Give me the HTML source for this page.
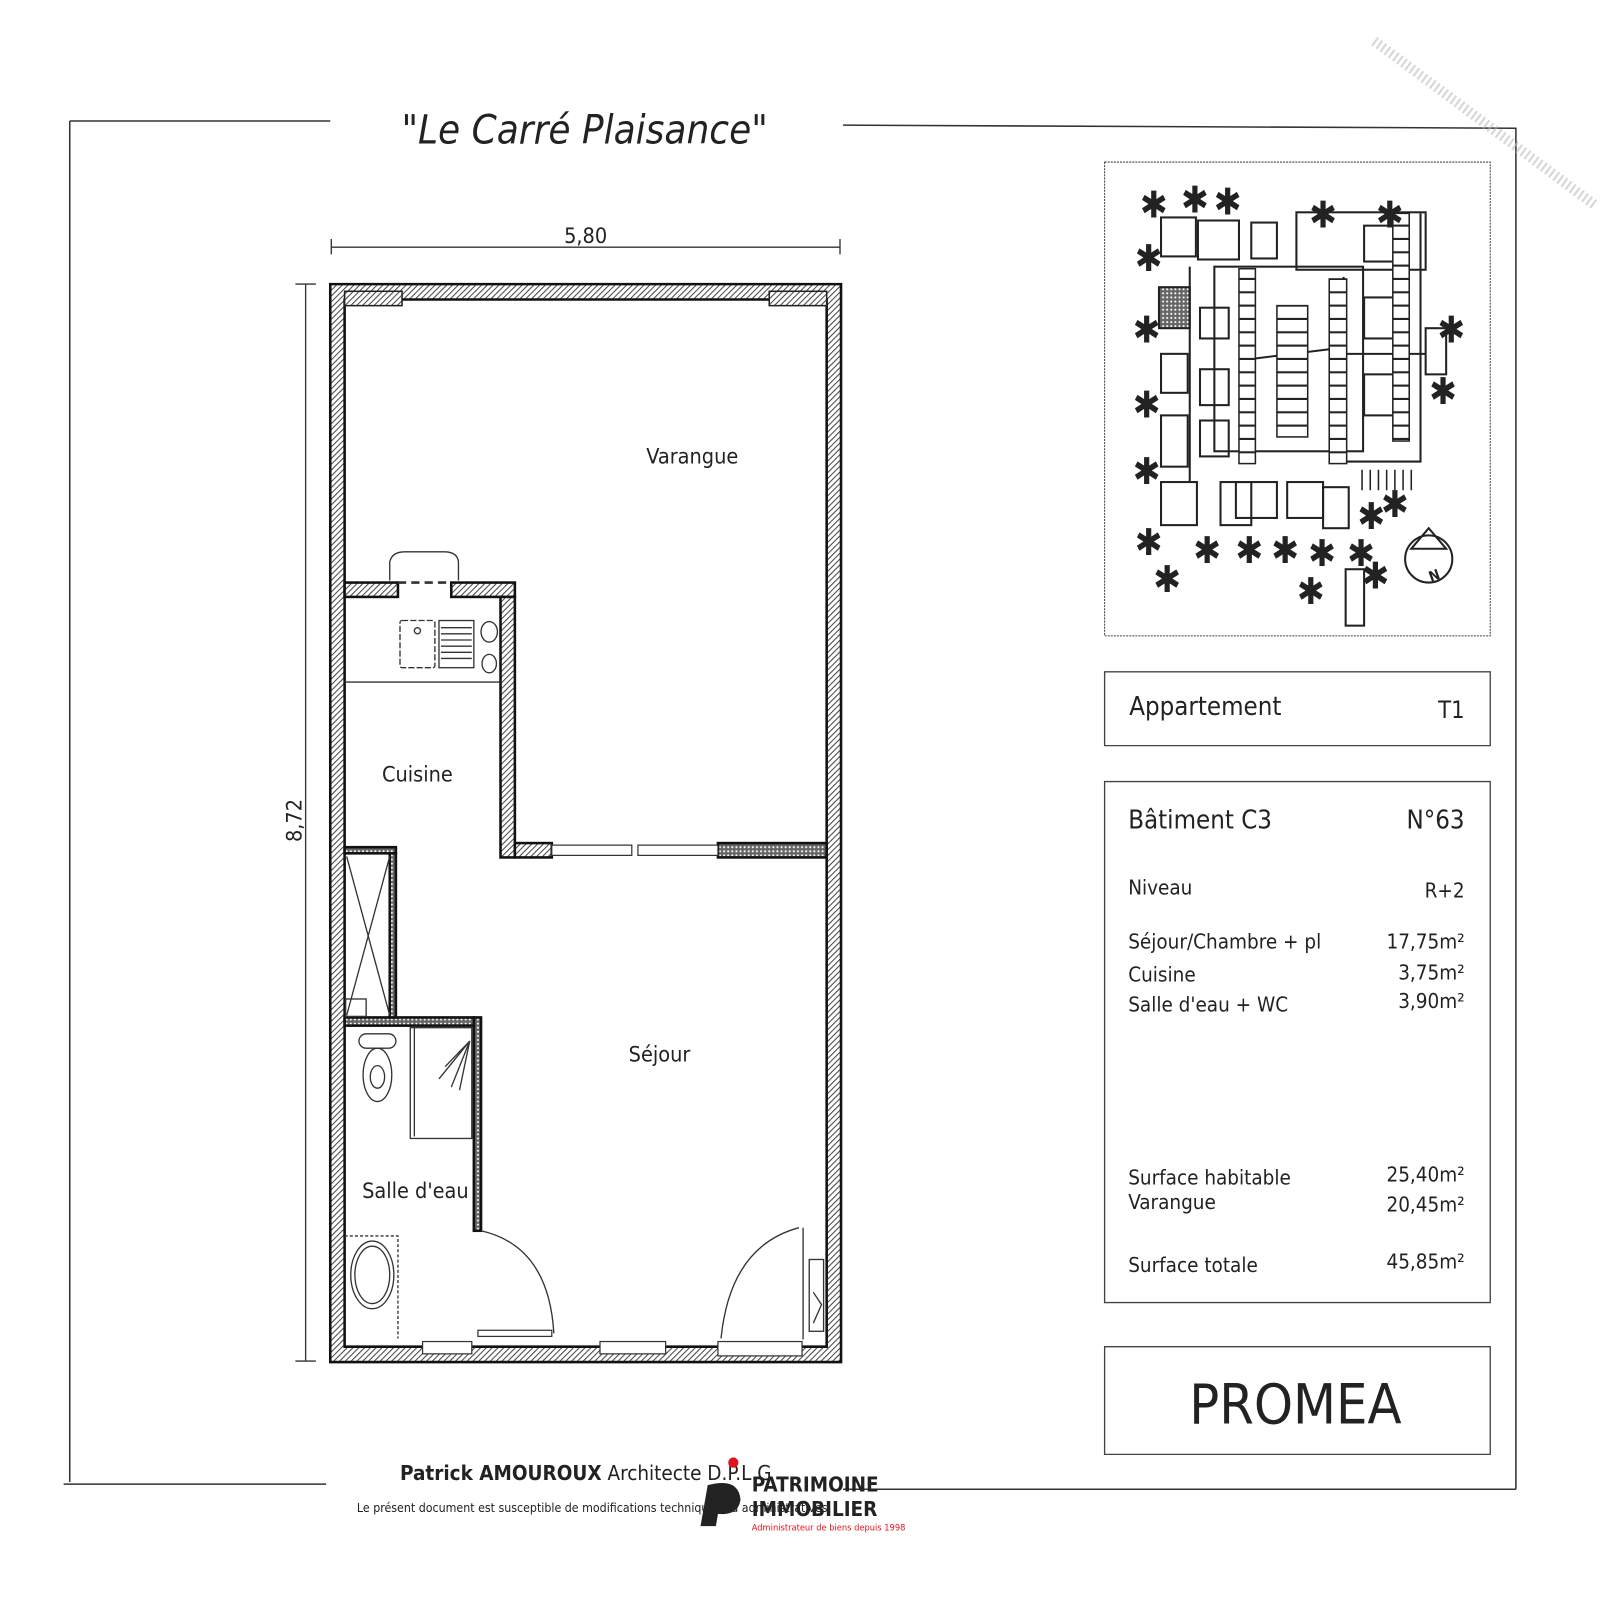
<!DOCTYPE html>
<html><head><meta charset="utf-8"><style>
html,body{margin:0;padding:0;background:#fff}
svg{display:block}
text{font-family:"DejaVu Sans Condensed","DejaVu Sans","Liberation Sans",sans-serif;fill:#222}
</style></head><body>
<svg width="1600" height="1600" viewBox="0 0 1560 1560" xmlns="http://www.w3.org/2000/svg">
<defs>
<pattern id="h" width="4" height="4" patternUnits="userSpaceOnUse" patternTransform="rotate(45)">
<rect width="4" height="4" fill="#fff"/><line x1="0" y1="0" x2="0" y2="4" stroke="#444" stroke-width="2"/></pattern>
<pattern id="d" width="4" height="4" patternUnits="userSpaceOnUse"><rect width="4" height="4" fill="#666"/><circle cx="2" cy="2" r="1" fill="#fff"/></pattern>
<pattern id="pk" width="20" height="13" patternUnits="userSpaceOnUse"><rect width="20" height="13" fill="#fff"/><line x1="0" y1="12" x2="20" y2="12" stroke="#222" stroke-width="2"/></pattern>
</defs>
<g stroke="#333" stroke-width="1.5" fill="none">
<path d="M68 118 H322"/><path d="M822 122 L1478 125 V1452"/>
<path d="M68 118 V1445"/><path d="M62 1447 H318"/><path d="M822 1452 H1478"/>
</g>
<text x="570" y="140" font-size="39" font-style="italic" text-anchor="middle">"Le Carré Plaisance"</text>
<g stroke="#333" stroke-width="1.3" fill="none">
<path d="M323 241 H819 M323 233 V248 M819 233 V248"/>
<path d="M298 277 V1327 M288 277 H308 M288 1327 H308"/>
</g>
<text x="571" y="237" font-size="21" text-anchor="middle">5,80</text>
<text x="0" y="0" font-size="21" text-anchor="middle" transform="translate(294,800) rotate(-90)">8,72</text>
<g fill="url(#h)" stroke="#111" stroke-width="2.5">
<path fill-rule="evenodd" d="M322 277 H820 V1328 H322 Z M336 292 V1313 H806 V292 Z"/>
<rect x="336" y="568" width="52" height="14"/><rect x="440" y="568" width="62" height="14"/>
<rect x="488" y="582" width="14" height="254"/>
<rect x="502" y="822" width="36" height="14"/><rect x="700" y="822" width="106" height="14" fill="url(#d)"/>
<rect x="462" y="992" width="7" height="208" fill="url(#d)"/>
<rect x="336" y="992" width="126" height="8" fill="url(#d)"/>
<rect x="336" y="826" width="50" height="6" fill="url(#d)"/>
<rect x="380" y="832" width="6" height="160" fill="url(#d)"/>
</g>
<g fill="url(#h)" stroke="#222" stroke-width="1.5">
<rect x="336" y="284" width="56" height="14"/><rect x="750" y="284" width="56" height="14"/>
</g>
<g fill="#fff" stroke="#333" stroke-width="1.2">
<rect x="538" y="824" width="78" height="10"/><rect x="622" y="824" width="78" height="10"/>
<rect x="412" y="1308" width="48" height="12"/><rect x="585" y="1308" width="64" height="12"/><rect x="700" y="1308" width="82" height="14"/>
<rect x="466" y="1297" width="72" height="6"/>
</g>
<g stroke="#333" stroke-width="1.3" fill="none">
<path d="M380 566 V548 Q382 538 395 538 H433 Q446 538 447 548 V566"/>
<path d="M388 568 H440" stroke-dasharray="8 5" stroke-width="2.5"/>
<path d="M336 665 H488"/>
<rect x="390" y="605" width="34" height="46" rx="2" stroke-dasharray="6 2"/>
<circle cx="407" cy="615" r="3"/>
<rect x="428" y="605" width="34" height="46"/>
<path d="M430 612H460M430 618H460M430 624H460M430 630H460M430 636H460M430 642H460"/>
<ellipse cx="477" cy="616" rx="8" ry="10"/><ellipse cx="477" cy="647" rx="7" ry="9"/>
<path d="M338 835 L380 990 M380 835 L338 990"/>
<rect x="337" y="974" width="20" height="17"/>
<rect x="350" y="1008" width="36" height="14" rx="7"/>
<ellipse cx="368" cy="1048" rx="14" ry="26"/><ellipse cx="368" cy="1050" rx="7" ry="11"/>
<rect x="400" y="1002" width="60" height="108"/><path d="M404 1002 V1108"/>
<path d="M458 1015 L434 1040 M458 1015 L428 1052 M458 1015 L440 1060 M458 1015 L448 1063"/>
<path d="M336 1205 H388 V1305" stroke-dasharray="3 2"/>
<ellipse cx="363" cy="1243" rx="21" ry="33"/><ellipse cx="363" cy="1243" rx="17" ry="28"/>
<path d="M469 1200 Q535 1215 540 1300"/><path d="M783 1197 V1306"/>
<path d="M779 1197 Q712 1215 703 1305"/>
<rect x="789" y="1228" width="14" height="70"/><path d="M793 1260 L801 1272 L793 1290"/>
</g>
<text x="675" y="452" font-size="21" text-anchor="middle">Varangue</text>
<text x="407" y="762" font-size="21" text-anchor="middle">Cuisine</text>
<text x="643" y="1035" font-size="21" text-anchor="middle">Séjour</text>
<text x="405" y="1168" font-size="21" text-anchor="middle">Salle d'eau</text>
<g stroke="#444" stroke-width="1" fill="none" stroke-dasharray="2 1">
<path d="M1077 158 H1453 V620 H1077 Z"/>
</g>
<g stroke="#222" stroke-width="2" fill="none">
<rect x="1132" y="212" width="34" height="38"/><rect x="1168" y="215" width="40" height="38"/><rect x="1220" y="217" width="25" height="35"/>
<rect x="1264" y="207" width="126" height="56"/><rect x="1330" y="220" width="30" height="35"/>
<rect x="1184" y="260" width="145" height="180"/><rect x="1130" y="280" width="30" height="40" fill="url(#d)"/>
<rect x="1132" y="345" width="26" height="38"/><rect x="1132" y="405" width="26" height="50"/>
<rect x="1132" y="470" width="35" height="42"/><rect x="1190" y="470" width="30" height="42"/><rect x="1205" y="470" width="40" height="35"/><rect x="1255" y="470" width="35" height="35"/><rect x="1290" y="475" width="25" height="40"/>
<rect x="1170" y="300" width="28" height="30"/><rect x="1170" y="360" width="28" height="35"/><rect x="1170" y="410" width="28" height="35"/>
<rect x="1330" y="290" width="40" height="40"/><rect x="1330" y="365" width="40" height="40"/>
<path d="M1160 260 V470 M1310 270 V450 H1385 V208"/>
<rect x="1390" y="320" width="20" height="45"/>
<path d="M1220 350 L1300 340 M1310 345 H1390"/>
<rect x="1312" y="555" width="18" height="55"/>
<circle cx="1393" cy="545" r="23"/><path d="M1376 535 L1393 515 L1410 535 Z"/>
</g>
<g stroke="#222" stroke-width="1.5">
<rect x="1208" y="262" width="16" height="190" fill="url(#pk)"/>
<rect x="1245" y="298" width="30" height="128" fill="url(#pk)"/>
<rect x="1296" y="272" width="17" height="180" fill="url(#pk)"/>
<rect x="1358" y="208" width="16" height="222" fill="url(#pk)"/>
<path d="M1328 458 V478 M1336 458 V478 M1344 458 V478 M1352 458 V478 M1360 458 V478 M1368 458 V478 M1376 458 V478" />
</g>
<g font-size="36" fill="#222" text-anchor="middle">
<text x="1125" y="212">✱</text><text x="1165" y="207">✱</text><text x="1197" y="209">✱</text><text x="1290" y="222">✱</text><text x="1355" y="222">✱</text>
<text x="1120" y="264">✱</text><text x="1118" y="334">✱</text><text x="1118" y="407">✱</text><text x="1118" y="472">✱</text><text x="1415" y="334">✱</text><text x="1407" y="394">✱</text>
<text x="1120" y="541">✱</text><text x="1138" y="577">✱</text><text x="1177" y="549">✱</text><text x="1218" y="549">✱</text><text x="1253" y="549">✱</text><text x="1289" y="552">✱</text><text x="1278" y="589">✱</text><text x="1327" y="552">✱</text><text x="1341" y="574">✱</text><text x="1337" y="516">✱</text><text x="1360" y="504">✱</text>
</g>
<text x="1398" y="566" font-size="14" font-weight="bold" text-anchor="middle" transform="rotate(-20 1398 560)">N</text>
<g stroke="#444" stroke-width="1.3" fill="none">
<path d="M1077 655 H1453 V727 H1077 Z"/>
<path d="M1077 762 H1453 V1270 H1077 Z"/>
<path d="M1077 1313 H1453 V1418 H1077 Z"/>
</g>
<text x="1101" y="697" font-size="25">Appartement</text>
<text x="1428" y="700" font-size="23" text-anchor="end">T1</text>
<text x="1100" y="808" font-size="25">Bâtiment C3</text>
<text x="1428" y="808" font-size="25" text-anchor="end">N°63</text>
<g font-size="20">
<text x="1100" y="872">Niveau</text><text x="1428" y="875" text-anchor="end">R+2</text>
<text x="1100" y="925">Séjour/Chambre + pl</text><text x="1428" y="925" text-anchor="end">17,75m²</text>
<text x="1100" y="957">Cuisine</text><text x="1428" y="955" text-anchor="end">3,75m²</text>
<text x="1100" y="986">Salle d'eau + WC</text><text x="1428" y="983" text-anchor="end">3,90m²</text>
<text x="1100" y="1155">Surface habitable</text><text x="1428" y="1152" text-anchor="end">25,40m²</text>
<text x="1100" y="1179">Varangue</text><text x="1428" y="1181" text-anchor="end">20,45m²</text>
<text x="1100" y="1240">Surface totale</text><text x="1428" y="1237" text-anchor="end">45,85m²</text>
</g>
<text x="1263" y="1388" font-size="54" text-anchor="middle">PROMEA</text>
<text x="390" y="1443" font-size="20"><tspan font-weight="bold">Patrick AMOUROUX</tspan> Architecte D.P.L.G</text>
<text x="348" y="1474" font-size="12">Le présent document est susceptible de modifications techniques ou administratives</text>
<path d="M690 1448 Q720 1440 722 1462 Q720 1478 700 1476 L698 1488 H683 Z" fill="#222"/>
<circle cx="715" cy="1426" r="5" fill="#e0141e"/>
<text x="733" y="1454" font-size="20" font-weight="bold" font-family="Liberation Sans" style="fill:#222">PATRIMOINE</text>
<text x="733" y="1478" font-size="20" font-weight="bold" font-family="Liberation Sans" style="fill:#222">IMMOBILIER</text>
<text x="733" y="1492" font-size="9" font-family="Liberation Sans" style="fill:#e0141e">Administrateur de biens depuis 1998</text>
<path d="M1340 40 L1555 200" stroke="#bbb" stroke-width="10" stroke-dasharray="2 3" opacity="0.6"/>
</svg>
</body></html>
